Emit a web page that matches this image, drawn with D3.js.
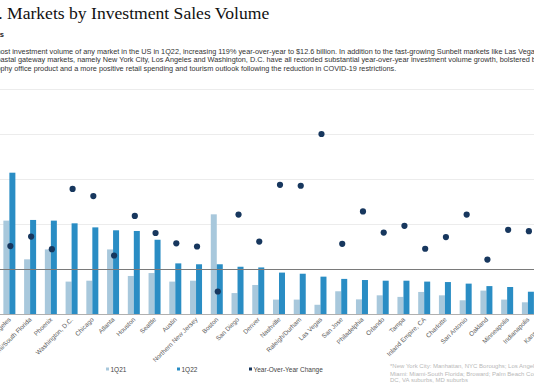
<!DOCTYPE html>
<html><head><meta charset="utf-8">
<script src="https://cdn.jsdelivr.net/npm/d3@7"></script>
<style>
html,body{margin:0;padding:0;background:#fff;overflow:hidden;}
svg{display:block;font-family:Arial,"Liberation Sans",sans-serif;}
</style></head>
<body>
<svg id="chart" width="534" height="390"></svg>
<script>
const categories = ["Los Angeles","Miami/South Florida","Phoenix","Washington, D.C.","Chicago","Atlanta","Houston","Seattle","Austin","Northern New Jersey","Boston","San Diego","Denver","Nashville","Raleigh/Durham","Las Vegas","San Jose","Philadelphia","Orlando","Tampa","Inland Empire, CA","Charlotte","San Antonio","Oakland","Minneapolis","Indianapolis","Kansas City"];
const vol1Q21 = [4.15,2.43,2.87,1.44,1.48,2.87,1.69,1.82,1.44,1.48,4.43,0.93,1.29,0.64,0.64,0.41,1.01,0.65,0.83,0.76,0.98,0.83,0.61,1.04,0.64,0.52,0.50];
const vol1Q22 = [6.28,4.18,4.15,4.03,3.85,3.72,3.69,3.30,2.25,2.21,2.21,2.10,2.07,1.84,1.79,1.66,1.56,1.51,1.48,1.48,1.44,1.42,1.35,1.24,1.20,0.99,0.95];
const yoyChange = [51,72,44,178,162,30,118,80,57,50,-50,121,61,187,185,300,56,128,81,96,45,71,121,21,87,84,90];
const seriesNames = ["1Q21","1Q22","Year-Over-Year Change"];
const leftTicks = [0,2,4,6,8,10];
const rightTicks = [-100,0,100,200,300,400];

const titleText = "Top U.S. Markets by Investment Sales Volume";
const subheadText = "Highlights";
const bodyLines = [
 "most investment volume of any market in the US in 1Q22, increasing 119% year-over-year to $12.6 billion. In addition to the fast-growing Sunbelt markets like Las Vegas,",
 "coastal gateway markets, namely New York City, Los Angeles and Washington, D.C. have all recorded substantial year-over-year investment volume growth, bolstered by",
 "trophy office product and a more positive retail spending and tourism outlook following the reduction in COVID-19 restrictions."
];
const footnoteLines = [
 "*New York City: Manhattan, NYC Boroughs; Los Angeles: Los Angeles, Orange County",
 "Miami: Miami-South Florida; Broward; Palm Beach County; Washington, D.C.:",
 "DC, VA suburbs, MD suburbs"
];

const colLight = "#a8c8dc", colDark = "#2a8dc4", colDot = "#17375e";
const svg = d3.select("#chart");

// Title (cropped on the left like the reference)
const title = svg.append("text").attr("y", 18.5).attr("font-family","'Liberation Serif','Times New Roman',serif")
  .attr("font-size", 17.6).attr("fill","#111").text(titleText);
const mIdx = titleText.indexOf("Markets");
title.attr("x", 7 - title.node().getSubStringLength(0, mIdx));

const sub = svg.append("text").attr("y", 37).attr("font-size", 7.5).attr("font-weight","bold").attr("fill","#222").text(subheadText);
sub.attr("x", 4 - sub.node().getComputedTextLength());

const cutChars = [1,2,3];
bodyLines.forEach((t,i)=>{
  const el = svg.append("text").attr("y", 53.5 + i*8.6).attr("font-size", 7.3).attr("fill","#333").text(t);
  el.attr("x", 0.5 - el.node().getSubStringLength(0, cutChars[i]));
});

// Scales
const x = d3.scaleBand().domain(categories).range([-1, 559]).padding(0);
const xSub = d3.scaleBand().domain(seriesNames.slice(0,2)).range([-6, 6]);
const yL = d3.scaleLinear().domain([0,10]).range([314, 89]);
const yR = d3.scaleLinear().domain([-100,400]).range([314, 89]);
const cx = c => x(c) + x.bandwidth()/2;

// Gridlines
svg.append("g").selectAll("line").data(leftTicks.slice(1)).join("line")
  .attr("x1",0).attr("x2",534).attr("y1",d=>yL(d)+0.5).attr("y2",d=>yL(d)+0.5)
  .attr("stroke","#ececec").attr("stroke-width",1);

// Bars
const g = svg.append("g");
categories.forEach((c,i)=>{
  const vals = [vol1Q21[i], vol1Q22[i]];
  g.selectAll(null).data(vals).join("rect")
    .attr("x",(d,j)=>cx(c)+xSub(seriesNames[j]))
    .attr("width", xSub.bandwidth())
    .attr("y", d=>yL(d)).attr("height", d=>yL(0)-yL(d))
    .attr("fill",(d,j)=> j===0?colLight:colDark);
});

// zero line of YoY axis
svg.append("line").attr("x1",0).attr("x2",534).attr("y1",yR(0)+0.5).attr("y2",yR(0)+0.5)
  .attr("stroke","#7a7a7a").attr("stroke-width",1);
// baseline
svg.append("line").attr("x1",0).attr("x2",534).attr("y1",yL(0)+0.5).attr("y2",yL(0)+0.5)
  .attr("stroke","#b0b0b0").attr("stroke-width",1);

// Dots
svg.append("g").selectAll("circle").data(categories).join("circle")
  .attr("cx", c=>cx(c)+1).attr("cy",(c,i)=>yR(yoyChange[i])).attr("r",3.1).attr("fill",colDot);

// X labels
svg.append("g").selectAll("text").data(categories).join("text")
  .attr("transform", c=>`translate(${cx(c)+2},${320}) rotate(-45)`)
  .attr("text-anchor","end").attr("font-size",6.4).attr("fill","#5a5a5a").text(c=>c);

// Legend
const legend = [{name:seriesNames[0],x:106,col:colLight},{name:seriesNames[1],x:177,col:colDark},{name:seriesNames[2],x:249,col:colDot}];
const lg = svg.append("g").selectAll("g").data(legend).join("g").attr("transform",d=>`translate(${d.x},370)`);
lg.append("rect").attr("x",0).attr("y",-2.5).attr("width",3).attr("height",3).attr("fill",d=>d.col);
lg.append("text").attr("x",4.5).attr("y",2.3).attr("font-size",6.5).attr("fill","#444").text(d=>d.name);

// Footnote
footnoteLines.forEach((t,i)=>{
  svg.append("text").attr("x",390).attr("y",[368,375.5,381.5][i]).attr("font-size",6).attr("fill","#b8b8b8").text(t);
});
</script>
</body></html>
